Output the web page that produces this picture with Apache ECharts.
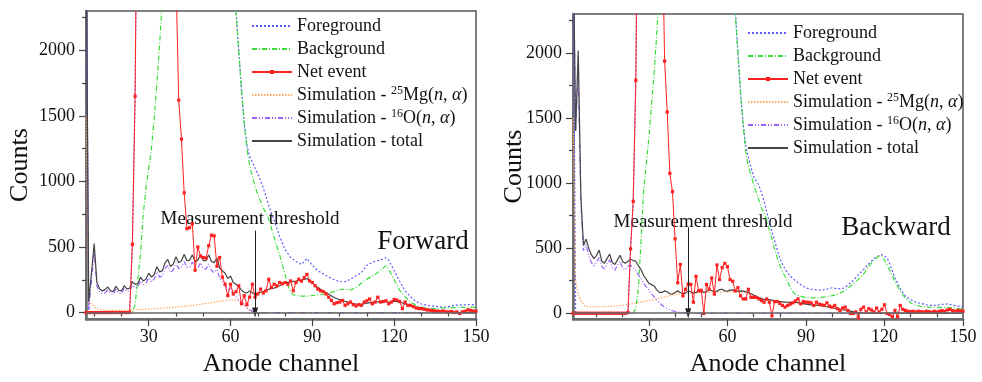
<!DOCTYPE html>
<html><head><meta charset="utf-8">
<script src="https://cdn.jsdelivr.net/npm/echarts@6.0.0/dist/echarts.min.js"></script>
<style>html,body{margin:0;padding:0;background:#fff}#c{width:982px;height:382px}</style>
</head><body><div id="c"></div>
<script>
// ---------- tick labels ----------
const xMajor = [30, 60, 90, 120, 150];
const xMinor = [10, 20, 40, 50, 70, 80, 100, 110, 130, 140];
const yMajor = [0, 500, 1000, 1500, 2000];
const yMinor = [250, 750, 1250, 1750, 2250];
const seriesNames = ['Foreground', 'Background', 'Net event', 'Simulation - 25Mg(n,α)', 'Simulation - 16O(n,α)', 'Simulation - total'];

// ---------- Forward (left) ----------
const F_foreground = [[7,3000],[8,0],[23,0],[24,520],[25,1650],[26,4000],[28,8000],[60,8000],[61,2700],[62,2300],[63,2000],[64,1700],[65,1450],[66,1280],[67,1190],[68,1150],[69,1100],[70,1060],[72,950],[74,820],[76,700],[78,580],[80,480],[82,420],[84,390],[86,366],[88,412],[90,360],[92,320],[94,295],[96,270],[98,250],[100,235],[102,235],[104,255],[106,280],[108,305],[110,360],[112,385],[114,395],[116,410],[117,418],[118,400],[120,320],[122,240],[124,165],[126,120],[128,85],[130,65],[132,55],[134,50],[136,45],[138,42],[140,45],[142,55],[144,58],[146,58],[148,62],[150,55]];
const F_background = [[7,0],[24,0],[25,60],[26,250],[27,450],[28,750],[29,950],[30,1100],[31,1250],[32,1480],[33,1750],[34,2050],[35,2400],[36,2800],[38,4000],[58,4000],[60,3000],[61,2600],[62,2300],[63,2000],[64,1700],[65,1450],[66,1250],[67,1120],[68,1040],[69,960],[70,900],[72,800],[74,714],[76,570],[78,440],[79,360],[80,290],[81,210],[82,155],[83,135],[84,130],[86,125],[88,125],[90,130],[92,135],[94,140],[96,148],[98,160],[100,175],[102,178],[104,172],[106,190],[108,225],[110,255],[112,278],[114,305],[116,340],[117,358],[118,330],[120,250],[122,170],[124,120],[126,80],[128,55],[130,42],[132,35],[134,32],[136,30],[138,35],[140,37],[142,38],[144,40],[146,40],[148,42],[150,40]];
const F_net = [[7,0],[8,0],[9,0],[10,0],[11,0],[12,0],[13,0],[14,0],[15,0],[16,0],[17,0],[18,0],[19,0],[20,0],[21,0],[22,0],[23,0],[24,520],[25,1650],[26,4000],[27,8000],[28,8000],[29,8000],[30,8000],[31,8000],[32,8000],[33,8000],[34,8000],[35,8000],[36,8000],[37,8000],[38,8000],[39,5000],[40,2550],[41,1620],[42,1323],[43,913],[44,640],[45,647],[46,677],[47,323],[48,500],[49,430],[50,420],[51,415],[52,510],[53,590],[54,585],[55,353],[56,420],[57,270],[58,216],[59,129],[60,216],[61,142],[62,159],[63,204],[64,67],[65,129],[66,60],[67,117],[68,216],[69,117],[70,142],[71,179],[72,149],[73,166],[74,254],[75,192],[76,216],[77,204],[78,229],[79,220],[80,229],[81,216],[82,241],[83,166],[84,229],[85,254],[86,240],[87,266],[88,291],[89,241],[90,229],[91,204],[92,179],[93,166],[94,160],[95,142],[96,117],[97,92],[98,67],[99,75],[100,80],[101,92],[102,55],[103,67],[104,80],[105,60],[106,50],[107,60],[108,55],[109,80],[110,90],[111,104],[112,67],[113,80],[114,117],[115,80],[116,84],[117,90],[118,67],[119,80],[120,100],[121,95],[122,84],[123,30],[124,80],[125,55],[126,55],[127,45],[128,35],[129,30],[130,30],[131,25],[132,20],[133,18],[134,15],[135,12],[136,10],[137,8],[138,12],[139,5],[140,5],[141,8],[142,0],[143,5],[144,-7],[145,5],[146,10],[147,20],[148,17],[149,12],[150,10]];
const F_mg = [[7,1500],[8,70],[9,67],[10,45],[11,30],[12,22],[14,18],[16,17],[18,17],[20,17],[22,18],[24,20],[26,22],[28,25],[30,28],[32,30],[34,33],[36,36],[38,39],[40,42],[42,46],[44,50],[46,55],[48,60],[50,66],[52,72],[54,80],[56,86],[58,92],[60,96],[62,95],[63,90],[64,80],[65,58],[66,32],[67,17],[68,5],[69,0],[150,0]];
const F_o16 = [[7,3000],[8,20],[9,240],[10,460],[11,200],[12,158],[13,145],[14,150],[15,170],[16,145],[17,140],[18,178],[19,150],[20,145],[21,185],[22,160],[23,165],[24,210],[25,190],[26,195],[27,240],[28,212],[29,225],[30,265],[31,235],[32,255],[33,310],[34,270],[35,280],[36,335],[37,360],[38,305],[39,325],[40,380],[41,335],[42,345],[43,390],[44,345],[45,345],[46,385],[47,335],[48,340],[49,380],[50,335],[51,330],[52,370],[53,320],[54,305],[55,330],[56,260],[57,235],[58,210],[59,175],[60,185],[61,140],[62,120],[63,100],[64,75],[65,58],[66,40],[67,22],[68,10],[69,4],[70,0],[150,0]];
const F_total = [[7,3000],[8,80],[9,300],[10,527],[11,230],[12,180],[13,165],[14,175],[15,195],[16,165],[17,160],[18,200],[19,170],[20,165],[21,205],[22,180],[23,185],[24,235],[25,215],[26,220],[27,270],[28,240],[29,255],[30,300],[31,270],[32,290],[33,350],[34,310],[35,320],[36,380],[37,405],[38,350],[39,370],[40,425],[41,380],[42,395],[43,445],[44,395],[45,400],[46,440],[47,390],[48,400],[49,440],[50,395],[51,395],[52,440],[53,390],[54,380],[55,415],[56,340],[57,320],[58,300],[59,260],[60,278],[61,230],[62,215],[63,200],[64,170],[65,155],[66,150],[67,165],[68,150],[69,140],[70,145],[71,155],[72,160],[73,170],[74,178],[75,182],[76,186],[77,195],[78,204],[80,225],[82,235],[84,240],[86,248],[88,258],[90,225],[92,190],[94,165],[96,140],[98,115],[100,98],[102,85],[104,75],[106,65],[108,62],[110,72],[112,78],[114,82],[116,88],[118,78],[120,86],[122,80],[124,66],[126,55],[128,42],[130,32],[132,25],[134,18],[136,12],[138,8],[140,5],[143,2],[146,0],[150,0]];

// ---------- Backward (right) ----------
const B_foreground = [[1,3000],[2,0],[22,5],[23,495],[24,860],[25,1790],[26,4000],[28,8000],[60,8000],[62,2700],[63,2350],[64,2000],[65,1700],[66,1450],[67,1290],[68,1200],[69,1120],[70,1050],[71,1017],[72,985],[73,930],[74,860],[75,780],[76,700],[77,630],[78,560],[79,490],[80,425],[81,380],[82,340],[83,310],[84,285],[86,250],[88,220],[90,195],[92,184],[94,180],[96,177],[98,185],[100,196],[102,188],[104,190],[106,215],[108,250],[110,295],[112,335],[114,380],[116,420],[118,445],[119,450],[120,440],[121,425],[122,380],[124,271],[126,190],[128,130],[130,105],[132,85],[134,75],[136,65],[138,60],[140,62],[142,68],[144,72],[146,62],[148,55],[150,52]];
const B_background = [[1,0],[24,0],[25,40],[26,200],[27,550],[28,950],[29,1150],[30,1350],[31,1600],[32,1850],[33,2150],[34,2500],[35,3000],[40,6000],[60,5000],[62,2800],[63,2300],[64,2000],[65,1700],[66,1450],[67,1240],[68,1130],[69,1060],[70,993],[71,930],[72,870],[73,810],[74,770],[75,720],[76,640],[77,570],[78,495],[79,430],[80,370],[81,320],[82,284],[83,240],[84,200],[85,165],[86,145],[88,130],[90,122],[92,118],[94,120],[96,122],[98,128],[100,135],[102,145],[104,165],[106,190],[108,225],[110,260],[112,300],[114,360],[116,410],[118,440],[119,440],[120,410],[122,330],[124,246],[126,170],[128,115],[130,80],[132,60],[134,52],[136,48],[138,46],[140,45],[142,45],[144,46],[146,42],[148,38],[150,35]];
const B_net = [[1,0],[2,0],[3,0],[4,0],[5,0],[6,0],[7,0],[8,0],[9,0],[10,0],[11,0],[12,0],[13,0],[14,0],[15,0],[16,0],[17,0],[18,0],[19,0],[20,0],[21,0],[22,5],[23,495],[24,860],[25,1790],[26,4000],[27,8000],[28,8000],[29,8000],[30,8000],[31,8000],[32,8000],[33,8000],[34,8000],[35,3150],[36,1938],[37,1547],[38,1075],[39,935],[40,572],[41,234],[42,375],[43,134],[44,184],[45,226],[46,221],[47,85],[48,284],[49,172],[50,177],[51,-2],[52,221],[53,184],[54,271],[55,147],[56,371],[57,259],[58,351],[59,383],[60,358],[61,259],[62,246],[63,172],[64,196],[65,134],[66,110],[67,110],[68,184],[69,122],[70,122],[71,122],[72,110],[73,97],[74,85],[75,110],[76,85],[77,-20],[78,90],[79,90],[80,75],[81,60],[82,47],[83,60],[84,70],[85,80],[86,95],[87,110],[88,72],[89,90],[90,85],[91,85],[92,80],[93,60],[94,85],[95,70],[96,65],[97,60],[98,80],[99,55],[100,47],[101,60],[102,35],[103,22],[104,40],[105,47],[106,22],[107,-2],[108,-2],[109,10],[110,-35],[111,30],[112,47],[113,10],[114,35],[115,25],[116,10],[117,40],[118,10],[119,30],[120,65],[121,-2],[122,-10],[123,-27],[124,22],[125,-27],[126,60],[127,30],[128,22],[129,15],[130,12],[131,15],[132,10],[133,15],[134,12],[135,10],[136,15],[137,12],[138,8],[139,15],[140,10],[141,15],[142,20],[143,15],[144,25],[145,30],[146,20],[147,15],[148,22],[149,18],[150,15]];
const B_mg = [[1,1500],[2,250],[3,140],[4,95],[5,65],[6,52],[8,48],[10,50],[12,50],[14,52],[16,55],[18,58],[20,62],[22,68],[24,75],[26,82],[28,90],[30,97],[32,105],[34,115],[36,125],[38,135],[40,145],[42,150],[44,150],[46,155],[48,155],[50,160],[55,160],[60,165],[65,165],[70,135],[75,100],[80,88],[85,82],[90,68],[95,58],[100,42],[105,24],[110,5],[114,0],[150,0]];
const B_o16 = [[1,3000],[2,1400],[3,1850],[4,850],[5,480],[6,530],[7,440],[8,390],[9,365],[10,390],[11,430],[12,360],[13,340],[14,380],[15,410],[16,350],[17,330],[18,370],[19,400],[20,345],[21,335],[22,360],[23,370],[24,350],[25,330],[26,295],[27,265],[28,230],[29,205],[30,175],[31,150],[32,125],[33,100],[34,80],[35,62],[36,48],[37,36],[38,26],[39,19],[40,14],[42,8],[44,4],[46,2],[48,0],[150,0]];
const B_total = [[1,3000],[2,1400],[3,2020],[4,900],[5,520],[6,570],[7,500],[8,450],[9,420],[10,445],[11,485],[12,400],[13,385],[14,420],[15,455],[16,390],[17,375],[18,410],[19,445],[20,395],[21,385],[22,400],[23,415],[24,405],[25,400],[26,365],[27,335],[28,290],[29,260],[30,230],[31,220],[32,210],[33,180],[34,160],[35,160],[36,172],[37,165],[38,150],[39,147],[40,160],[41,172],[42,160],[43,150],[44,155],[45,170],[46,165],[47,155],[48,160],[49,175],[50,170],[51,160],[52,165],[53,180],[54,175],[55,165],[56,170],[57,182],[58,184],[59,172],[60,170],[61,178],[62,180],[63,172],[64,168],[65,172],[66,170],[68,160],[70,140],[72,120],[74,105],[76,105],[78,95],[80,90],[82,85],[84,83],[86,85],[88,78],[90,70],[92,65],[94,62],[96,58],[98,50],[100,42],[102,35],[104,27],[106,20],[108,12],[110,5],[112,2],[114,0],[150,0]];

// threshold arrows: [channel, top count, tip count]
const F_threshold = [69, 625, 0];
const B_threshold = [45, 660, 0];

const FONT = 'Liberation Serif';
const styles = [
  {color:'#5b5bff', type:[2,2]},
  {color:'#3ddc3d', type:[5,2,1,2]},
  {color:'#ff2020', type:'solid'},
  {color:'#ffa860', type:[1.5,1.5]},
  {color:'#9a60ff', type:[5,2,1,2,1,2]},
  {color:'#444444', type:'solid'}
];

function mkSeries(data, idx, xi, yi, thr) {
  const st = styles[idx];
  const s = {
    name: seriesNames[idx], type:'line', data: data, xAxisIndex: xi, yAxisIndex: yi,
    symbol: idx === 2 ? 'rect' : 'none', symbolSize: 3.2, showSymbol: idx === 2,
    itemStyle: {color: st.color}, lineStyle: {color: st.color, width: idx === 2 ? 1 : 1.2, type: st.type},
    silent: true, animation: false, z: idx === 2 ? 4 : 3
  };
  if (idx === 5) {
    s.markLine = {
      silent: true, animation: false, symbol: ['none','none'],
      label: {show:false},
      lineStyle: {color:'#666', width:1.5, type:'solid'},
      data: [[{coord:[thr[0], thr[1]], lineStyle:{color:'#222', width:1}, symbol:'none'}, {coord:[thr[0], thr[2]], symbol:'triangle', symbolSize:[6,10]}],
             {yAxis: 0}]
    };
  }
  return s;
}

const series = [];
[F_foreground, F_background, F_net, F_mg, F_o16, F_total].forEach((d,i)=>series.push(mkSeries(d,i,0,0,F_threshold)));
[B_foreground, B_background, B_net, B_mg, B_o16, B_total].forEach((d,i)=>series.push(mkSeries(d,i,2,2,B_threshold)));

const plain = v => String(v);
function xAxes(grid, min) {
  return [
    {type:'value', gridIndex:grid, min:min, max:150, position:'bottom',
     name:'Anode channel', nameLocation:'middle', nameGap:26,
     nameTextStyle:{fontFamily:FONT, fontSize:26, color:'#111'},
     axisLine:{show:true, onZero:false, lineStyle:{color:'#6a6a6a', width:2.5}},
     axisTick:{show:true, inside:false, length:7, customValues:xMajor, lineStyle:{color:'#444', width:1.2}},
     axisLabel:{show:true, customValues:xMajor, formatter:plain, margin:9, fontFamily:FONT, fontSize:18, color:'#111'},
     splitLine:{show:false}},
    {type:'value', gridIndex:grid, min:min, max:150, position:'bottom',
     axisLine:{show:false}, axisLabel:{show:false},
     axisTick:{show:true, inside:false, length:4, customValues:xMinor, lineStyle:{color:'#444', width:1.2}},
     splitLine:{show:false}}
  ];
}
function yAxes(grid, min, gap) {
  return [
    {type:'value', gridIndex:grid, min:min, max:2300, position:'left',
     name:'Counts', nameLocation:'middle', nameGap:gap, nameMoveOverlap:false,
     nameTextStyle:{fontFamily:FONT, fontSize:26, color:'#111'},
     axisLine:{show:true, onZero:false, lineStyle:{color:'#6a6a6a', width:2.5}},
     axisTick:{show:true, inside:false, length:7, customValues:yMajor, lineStyle:{color:'#444', width:1.2}},
     axisLabel:{show:true, customValues:yMajor, formatter:plain, margin:11, fontFamily:FONT, fontSize:18, color:'#111'},
     splitLine:{show:false}},
    {type:'value', gridIndex:grid, min:min, max:2300, position:'left',
     axisLine:{show:false}, axisLabel:{show:false},
     axisTick:{show:true, inside:false, length:4, customValues:yMinor, lineStyle:{color:'#444', width:1.2}},
     splitLine:{show:false}}
  ];
}

function legendFmt(name) {
  if (name === seriesNames[3]) return '{r|Simulation - }{sup|25}{r|Mg(}{it|n}{r|, }{it|α}{r|)}';
  if (name === seriesNames[4]) return '{r|Simulation - }{sup|16}{r|O(}{it|n}{r|, }{it|α}{r|)}';
  return '{r|' + name + '}';
}
function legend(left, top) {
  return {
    orient:'vertical', left:left, top:top, itemWidth:40, itemHeight:5, itemGap:3,
    selectedMode:false,
    data: seriesNames.map((n, i) => ({name: n, itemStyle: {opacity: i === 2 ? 1 : 0}})),
    formatter: legendFmt,
    textStyle:{fontFamily:FONT, fontSize:18, color:'#111', lineHeight:20,
      rich:{r:{fontFamily:FONT, fontSize:18, lineHeight:20, color:'#111'},
            sup:{fontFamily:FONT, fontSize:12, verticalAlign:'top', lineHeight:20, color:'#111'},
            it:{fontFamily:FONT, fontSize:18, fontStyle:'italic', lineHeight:20, color:'#111'}}}
  };
}

const chart = echarts.init(document.getElementById('c'), null, {renderer:'canvas'});
chart.setOption({
  backgroundColor:'#ffffff',
  animation:false,
  textStyle:{fontFamily:FONT},
  grid:[
    {left:86, top:11, width:390, height:315, show:true, borderColor:'#555', borderWidth:1.5, containLabel:false},
    {left:573, top:14, width:390, height:315, show:true, borderColor:'#555', borderWidth:1.5, containLabel:false}
  ],
  xAxis: xAxes(0, 7).concat(xAxes(1, 1)),
  yAxis: yAxes(0, -50, 53).concat(yAxes(1, -45, 46)),
  legend: [legend(246, 11), legend(742, 18)],
  series: series,
  graphic: [
    {type:'text', silent:true, style:{text:'Measurement threshold', x:250, y:219, align:'center', verticalAlign:'middle', fontFamily:FONT, fontSize:19, fill:'#111'}},
    {type:'text', silent:true, style:{text:'Forward', x:423, y:242, align:'center', verticalAlign:'middle', fontFamily:FONT, fontSize:27, fill:'#111'}},
    {type:'text', silent:true, style:{text:'Measurement threshold', x:703, y:222, align:'center', verticalAlign:'middle', fontFamily:FONT, fontSize:19, fill:'#111'}},
    {type:'text', silent:true, style:{text:'Backward', x:896, y:228, align:'center', verticalAlign:'middle', fontFamily:FONT, fontSize:27, fill:'#111'}}
  ]
});
</script></body></html>
